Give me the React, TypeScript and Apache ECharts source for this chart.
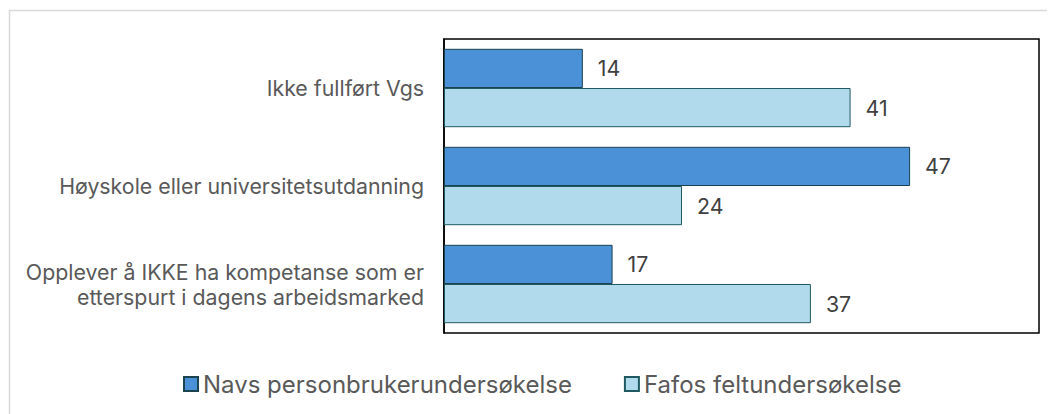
import React, { useEffect, useRef } from "react";
import * as echarts from "echarts";

const categories = [
  "Ikke fullført Vgs",
  "Høyskole eller universitetsutdanning",
  "Opplever å IKKE ha kompetanse som er\netterspurt i dagens arbeidsmarked",
];
const seriesNames = ["Navs personbrukerundersøkelse", "Fafos feltundersøkelse"];
const navsValues = [14, 47, 17];
const fafoValues = [41, 24, 37];

export default function App() {
  const ref = useRef<HTMLDivElement>(null);
  useEffect(() => {
    if (!ref.current) return;
    const chart = echarts.init(ref.current, undefined, { renderer: "svg" });
    const font = "Inter";
    const labelStyle = {
      show: true,
      position: "right" as const,
      distance: 15,
      fontFamily: font,
      fontSize: 21.33,
      color: "#404040",
    };
    chart.setOption({
      animation: false,
      graphic: [
        {
          type: "rect",
          shape: { x: 1.5, y: 2.5, width: 1200, height: 600 },
          style: { fill: "none", stroke: "#d9d9d9", lineWidth: 1.5 },
          silent: true,
        },
      ],
      grid: { left: 436, top: 31, width: 595, height: 294, show: true, borderColor: "#000", borderWidth: 1.5 },
      xAxis: {
        type: "value",
        min: 0,
        max: 60,
        interval: 10,
        show: false,
      },
      yAxis: {
        type: "category",
        data: categories,
        inverse: true,
        axisLine: { show: true, lineStyle: { color: "#000", width: 1.5 } },
        axisTick: { show: false },
        axisLabel: {
          fontFamily: font,
          fontSize: 21.33,
          color: "#595959",
          margin: 20,
          align: "right",
          lineHeight: 25,
        },
      },
      legend: {
        data: seriesNames,
        left: 170,
        top: 359,
        icon: "rect",
        itemWidth: 14,
        itemHeight: 14,
        itemGap: 52,
        textStyle: { fontFamily: font, fontSize: 24, color: "#595959" },
      },
      series: [
        {
          name: seriesNames[0],
          type: "bar",
          data: navsValues,
          barGap: "0%",
          barCategoryGap: "20%",
          itemStyle: { color: "#4a91d7", borderColor: "#1b4450", borderWidth: 1 },
          label: labelStyle,
        },
        {
          name: seriesNames[1],
          type: "bar",
          data: fafoValues,
          barGap: "0%",
          barCategoryGap: "20%",
          itemStyle: { color: "#b1daec", borderColor: "#1f5a60", borderWidth: 1 },
          label: labelStyle,
        },
      ],
    });
    return () => chart.dispose();
  }, []);
  return <div ref={ref} style={{ width: 1047, height: 406 }} />;
}
